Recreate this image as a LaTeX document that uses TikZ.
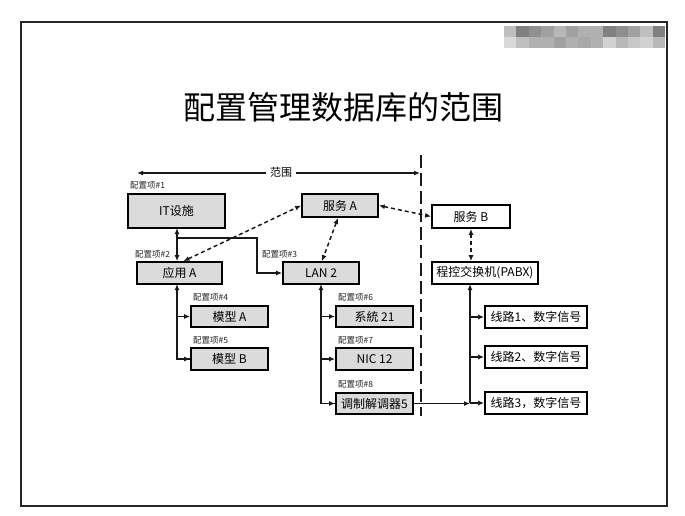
\documentclass[tikz,border=0pt]{standalone}
\usepackage{fontspec}
\setmainfont{Noto Sans CJK SC}
\usetikzlibrary{arrows.meta,calc}
\tikzset{
  box/.style={draw=black, line width=1.8pt, inner sep=0pt, font=\fontsize{12}{14}\selectfont, text=black},
  gbox/.style={box, fill=black!14},
  wbox/.style={box, fill=white},
  cilabel/.style={font=\fontsize{8.5}{10}\selectfont, anchor=west, inner sep=0pt, text=black!85},
  sline/.style={line width=1.4pt, draw=black!90},
  dline/.style={line width=1.5pt, draw=black!90, dash pattern=on 4pt off 3pt},
  tip/.style={-{Latex[length=6pt,width=5pt]}},
  tips/.style={{Latex[length=6pt,width=5pt]}-{Latex[length=6pt,width=5pt]}},
  tipback/.style={{Latex[length=6pt,width=5pt]}-},
}
\begin{document}
\begin{tikzpicture}[x=1pt,y=-1pt]
\useasboundingbox (0,0) rectangle (685,515);
\fill[white] (0,0) rectangle (685,515);
% frame
\draw[line width=2pt, black!85] (21,22) rectangle (667,506);
% mosaic watermark
\foreach \g [count=\i from 0] in {25,50,44,37,28,37,31,31,50,44,37,25,50}
  \fill[black!\g] ({504+\i*12.4},26) rectangle ({504+(\i+1)*12.4},37);
\foreach \g [count=\i from 0] in {15,25,31,31,37,31,34,31,18,28,22,18,28}
  \fill[black!\g] ({504+\i*12.4},37) rectangle ({504+(\i+1)*12.4},48);
% title
\node[font=\fontsize{32}{36}\selectfont, inner sep=0pt] (title) at (343,107) {配置管理数据库的范围};
% scope arrow
\node[font=\fontsize{11}{13}\selectfont, inner sep=1pt] (scope) at (281,172) {范围};
\coordinate (sl) at (137,173);
\coordinate (sr) at (420,173);
\draw[sline, tip] (scope.west) ++(-3,1) -- (sl);
\draw[sline, tip] (scope.east) ++(3,1) -- (sr);
% separator
\coordinate (septop) at (421,155);
\coordinate (sepbot) at (421,416);
\draw[line width=2.6pt, black!90, dash pattern=on 13pt off 5pt] (septop) -- (sepbot);
% nodes
\node[gbox, minimum width=97pt, minimum height=34pt] (it) at (176.5,211) {IT设施};
\node[gbox, minimum width=76pt, minimum height=23pt] (sa) at (340,205.5) {服务 A};
\node[wbox, minimum width=78pt, minimum height=23pt] (sb) at (471,216.5) {服务 B};
\node[gbox, minimum width=85pt, minimum height=22pt] (appa) at (179.5,273) {应用 A};
\node[gbox, minimum width=76pt, minimum height=22pt] (lan) at (321,273) {LAN 2};
\node[wbox, minimum width=106pt, minimum height=22pt] (pabx) at (485,273) {程控交换机(PABX)};
\node[gbox, minimum width=77pt, minimum height=21pt] (ma) at (229.5,316.5) {模型 A};
\node[gbox, minimum width=77pt, minimum height=22pt] (mb) at (229.5,359) {模型 B};
\node[gbox, minimum width=77pt, minimum height=21pt] (sys) at (374.5,316.5) {系統 21};
\node[gbox, minimum width=77pt, minimum height=22pt] (nic) at (374.5,359) {NIC 12};
\node[gbox, minimum width=77pt, minimum height=21pt] (modem) at (374.5,403.5) {调制解调器5};
\node[wbox, minimum width=102pt, minimum height=22pt] (l1) at (536,317) {线路1、数字信号};
\node[wbox, minimum width=102pt, minimum height=22pt] (l2) at (536,357) {线路2、数字信号};
\node[wbox, minimum width=102pt, minimum height=22pt] (l3) at (536,403) {线路3，数字信号};
% labels
\node[cilabel] (c1) at (130,185) {配置项\#1};
\node[cilabel] (c2) at (135,254) {配置项\#2};
\node[cilabel] (c3) at (262,254) {配置项\#3};
\node[cilabel] (c4) at (193,297) {配置项\#4};
\node[cilabel] (c5) at (193,340) {配置项\#5};
\node[cilabel] (c6) at (338,297) {配置项\#6};
\node[cilabel] (c7) at (338,340) {配置项\#7};
\node[cilabel] (c8) at (338,384) {配置项\#8};
% connectors
\coordinate (iv) at (177,228);
\draw[sline, tips] (iv) -- (iv |- appa.north);
\coordinate (j1) at (177,238);
\coordinate (bend) at (257,238);
\draw[sline, tip] (j1) -- (bend) |- (lan.west);
\draw[dline, tips] ([xshift=4pt]appa.north) -- (sa.west);
\draw[dline, tips] ([xshift=-2pt]sa.south) -- ([xshift=1pt]lan.north);
\draw[dline, tips] (sa.east) -- (sb.west);
\draw[dline, tips] (sb.south) -- (sb.south |- pabx.north);
% app branch
\coordinate (av) at (177,284);
\draw[sline, tipback] (av) -- (av |- mb.west) -- (mb.west);
\draw[sline, tip] (av |- ma.west) -- (ma.west);
\draw[sline, tip] (av |- mb.west) -- (mb.west);
% lan branch
\coordinate (lv) at (321,284);
\draw[sline, tipback] (lv) -- (lv |- modem.west) -- (modem.west);
\draw[sline, tip] (lv |- sys.west) -- (sys.west);
\draw[sline, tip] (lv |- nic.west) -- (nic.west);
\draw[sline, tip] (lv |- modem.west) -- (modem.west);
% pabx branch
\coordinate (pv) at (470,284);
\draw[sline, tipback] (pv) -- (pv |- l3.west);
\draw[sline, tip] (pv |- l1.west) -- (l1.west);
\draw[sline, tip] (pv |- l2.west) -- (l2.west);
\draw[sline, tip] (pv |- l3.west) -- (l3.west);
\draw[sline, tip] (modem.east) -- (pv |- modem.east);
\end{tikzpicture}
\end{document}
